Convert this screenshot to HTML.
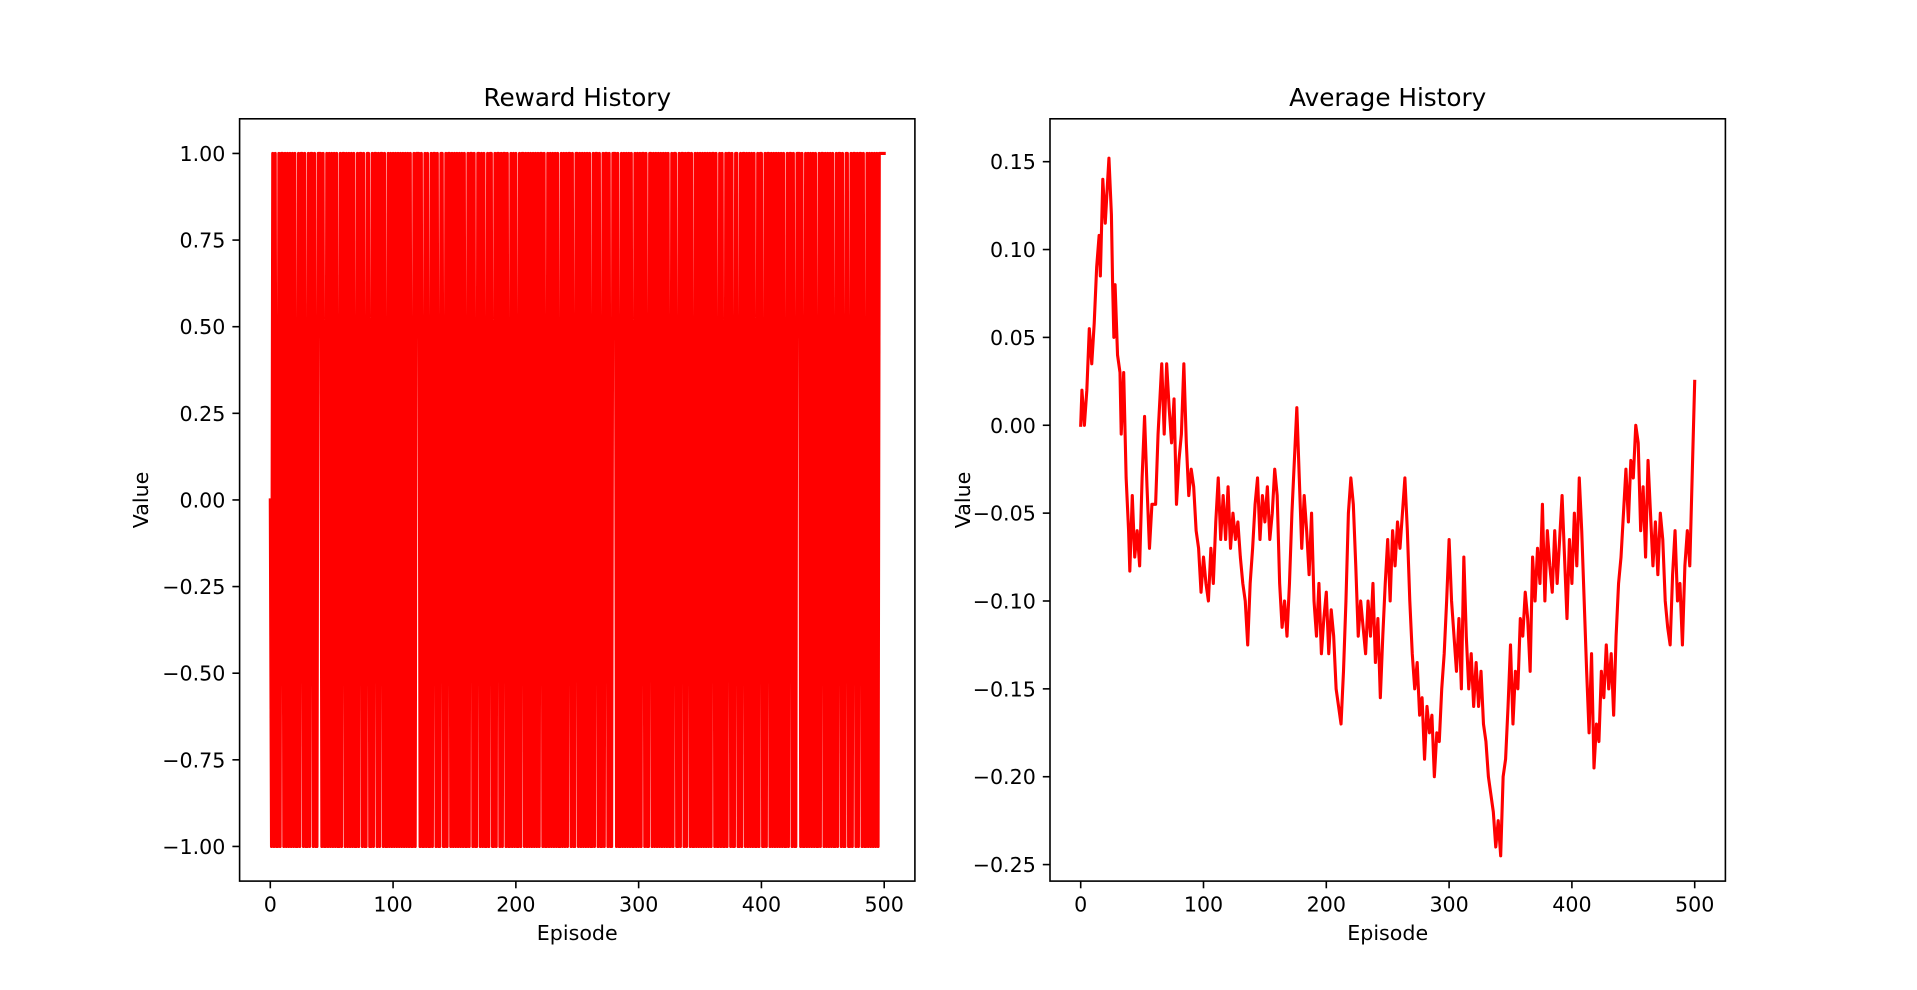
<!DOCTYPE html>
<html><head><meta charset="utf-8"><style>
html,body{margin:0;padding:0;background:#fff;}
svg{display:block;font-family:"DejaVu Sans","Liberation Sans",sans-serif;}
</style></head>
<body>
<svg id="fig" width="1917" height="990" viewBox="0 0 1917 990" xmlns="http://www.w3.org/2000/svg">
<rect x="0" y="0" width="1917" height="990" fill="#fff"/>
</svg>
<script>
// ---- data ----
const rewardGroups = [
"zbababbaba","ababababab","abbabaabab","babaababba","aababbabab",
"abababbaba","ababababab","babaababba","abbabaabab","aababbabab",
"ababababab","abababbaba","aababbabab","babaababba","abbabaabab",
"ababababab","babaababba","abababbaba","abbabaabab","aababbabab",
"abbabaabab","ababababab","aababbabab","abababbaba","babaababba",
"ababababab","abbabaabab","babaababba","aababbabab","abababbaba",
"babaababba","ababababab","abababbaba","abbabaabab","aababbabab",
"ababababab","aababbabab","babaababba","abbabaabab","abababbaba",
"abbabaabab","ababababab","babaababba","aababbabab","abababbaba",
"ababababab","babaababba","abbabaabab","aababbabab","abababaaaaa"];
const avgEpisodes = [0,1,3,5,7,9,11,13,15,16,18,20,22,23,25,26,27,28,30,32,33,35,37,39,40,42,44,46,48,50,52,54,56,58,61,63,66,68,70,72,74,76,78,80,82,84,86,88,90,92,94,96,98,100,102,104,106,108,110,112,114,116,118,120,122,124,126,128,130,132,134,136,138,140,142,144,146,148,150,152,154,156,158,160,162,164,166,168,170,172,174,176,178,180,182,184,186,188,190,192,194,196,198,200,202,204,206,208,210,212,214,216,218,220,222,224,226,228,230,232,234,236,238,240,242,244,246,248,250,252,254,256,258,260,262,264,266,268,270,272,274,276,278,280,282,284,286,288,290,292,294,296,298,300,302,304,306,308,310,312,314,316,318,320,322,324,326,328,330,332,334,336,338,340,342,344,346,348,350,352,354,356,358,360,362,364,366,368,370,372,374,376,378,380,382,384,386,388,390,392,394,396,398,400,402,404,406,408,410,412,414,416,418,420,422,424,426,428,430,432,434,436,438,440,442,444,446,448,450,452,454,456,458,460,462,464,466,468,470,472,474,476,478,480,482,484,486,488,490,492,494,496,500];
const avgValues = [0.0,0.02,0.0,0.02,0.055,0.035,0.058,0.09,0.108,0.085,0.14,0.115,0.14,0.152,0.12,0.08,0.05,0.08,0.04,0.03,-0.005,0.03,-0.03,-0.06,-0.083,-0.04,-0.075,-0.06,-0.08,-0.03,0.005,-0.035,-0.07,-0.045,-0.045,-0.005,0.035,-0.005,0.035,0.01,-0.01,0.015,-0.045,-0.02,-0.005,0.035,-0.01,-0.04,-0.025,-0.035,-0.06,-0.07,-0.095,-0.075,-0.09,-0.1,-0.07,-0.09,-0.055,-0.03,-0.065,-0.04,-0.065,-0.035,-0.07,-0.05,-0.065,-0.055,-0.075,-0.09,-0.1,-0.125,-0.09,-0.07,-0.045,-0.03,-0.065,-0.04,-0.055,-0.035,-0.065,-0.05,-0.025,-0.04,-0.09,-0.115,-0.1,-0.12,-0.09,-0.05,-0.02,0.01,-0.03,-0.07,-0.04,-0.06,-0.085,-0.05,-0.1,-0.12,-0.09,-0.13,-0.11,-0.095,-0.13,-0.105,-0.12,-0.15,-0.16,-0.17,-0.14,-0.1,-0.05,-0.03,-0.045,-0.08,-0.12,-0.1,-0.115,-0.13,-0.1,-0.12,-0.09,-0.135,-0.11,-0.155,-0.12,-0.09,-0.065,-0.1,-0.06,-0.08,-0.055,-0.07,-0.05,-0.03,-0.06,-0.1,-0.13,-0.15,-0.135,-0.165,-0.155,-0.19,-0.16,-0.175,-0.165,-0.2,-0.175,-0.18,-0.15,-0.13,-0.1,-0.065,-0.1,-0.12,-0.14,-0.11,-0.15,-0.075,-0.12,-0.15,-0.13,-0.16,-0.135,-0.16,-0.14,-0.17,-0.18,-0.2,-0.21,-0.22,-0.24,-0.225,-0.245,-0.2,-0.19,-0.16,-0.125,-0.17,-0.14,-0.15,-0.11,-0.12,-0.095,-0.11,-0.14,-0.075,-0.1,-0.07,-0.09,-0.045,-0.1,-0.06,-0.08,-0.095,-0.06,-0.09,-0.065,-0.04,-0.075,-0.11,-0.065,-0.09,-0.05,-0.08,-0.03,-0.06,-0.1,-0.14,-0.175,-0.13,-0.195,-0.17,-0.18,-0.14,-0.155,-0.125,-0.15,-0.13,-0.165,-0.12,-0.09,-0.075,-0.05,-0.025,-0.055,-0.02,-0.03,0.0,-0.01,-0.06,-0.035,-0.075,-0.02,-0.05,-0.08,-0.055,-0.085,-0.05,-0.065,-0.1,-0.115,-0.125,-0.085,-0.06,-0.1,-0.09,-0.125,-0.08,-0.06,-0.08,0.025];
const xTicks = [0,100,200,300,400,500];
const leftYTicks = [-1.0,-0.75,-0.5,-0.25,0.0,0.25,0.5,0.75,1.0];
const rightYTicks = [-0.25,-0.2,-0.15,-0.1,-0.05,0.0,0.05,0.1,0.15];

const NS="http://www.w3.org/2000/svg";
const svg=document.getElementById('fig');
function mk(tag,attrs,parent){const e=document.createElementNS(NS,tag);for(const k in attrs)e.setAttribute(k,attrs[k]);(parent||svg).appendChild(e);return e;}
function fmt(v,d){const s=Math.abs(v).toFixed(d);return (v<-1e-9?"\u2212":"")+s;}

const FS=20.6, TFS=24.7, LW=3.1, TL=7.2, SW=1.6;

function drawAxes(cfg){
  const {x0,x1,y0,y1,xmin,xmax,ymin,ymax,title,yTicks,dec,name,xs,ys}=cfg;
  const X=v=>x0+(v-xmin)/(xmax-xmin)*(x1-x0);
  const Y=v=>y1-(v-ymin)/(ymax-ymin)*(y1-y0);
  const g=mk('g',{});
  
  
  let d='';
  for(let i=0;i<xs.length;i++){d+=(i?'L':'M')+X(xs[i]).toFixed(2)+' '+Y(ys[i]).toFixed(2);}
  const p=mk('path',{d:d,fill:'none',stroke:'#ff0000','stroke-width':LW,'stroke-linejoin':'round','stroke-linecap':'square'},g);
  
  
  const fr=mk('rect',{x:x0,y:y0,width:x1-x0,height:y1-y0,fill:'none',stroke:'#000','stroke-width':SW},g);
  
  
  xTicks.forEach(t=>{
    const x=X(t);
    mk('line',{x1:x,x2:x,y1:y1,y2:y1+TL,stroke:'#000','stroke-width':SW},g);
    const tx=mk('text',{x:x,y:911.5,'font-size':FS,'text-anchor':'middle',fill:'#000'},g);
    tx.textContent=String(t);
    
    
  });
  yTicks.forEach(t=>{
    const y=Y(t);
    mk('line',{x1:x0-TL,x2:x0,y1:y,y2:y,stroke:'#000','stroke-width':SW},g);
    const tx=mk('text',{x:x0-TL-7,y:y+7.5,'font-size':FS,'text-anchor':'end',fill:'#000'},g);
    tx.textContent=fmt(t,dec);
    
    
  });
  const tt=mk('text',{x:(x0+x1)/2,y:106,'font-size':TFS,'text-anchor':'middle',fill:'#000'},g);
  tt.textContent=title;
  
  
  const xl=mk('text',{x:(x0+x1)/2,y:940,'font-size':FS,'text-anchor':'middle',fill:'#000'},g);
  xl.textContent='Episode';
  
  
  const lx=cfg.ylabX, ly=(y0+y1)/2;
  const yl=mk('text',{x:lx,y:ly,'font-size':FS,'text-anchor':'middle',fill:'#000',transform:'rotate(-90 '+lx+' '+ly+')'},g);
  yl.textContent='Value';
  
  
}

const rewards=rewardGroups.join('').split('').map(c=>c==='a'?1:(c==='b'?-1:0));
const rewardEpisodes=rewards.map((_,i)=>i);

drawAxes({x0:239.6,x1:914.9,y0:118.8,y1:881.1,xmin:-25,xmax:525,ymin:-1.1,ymax:1.1,
  title:'Reward History',yTicks:leftYTicks,dec:2,name:'reward-history-chart',xs:rewardEpisodes,ys:rewards,ylabX:148});
drawAxes({x0:1050.0,x1:1725.4,y0:118.8,y1:881.1,xmin:-25,xmax:525,ymin:-0.2594,ymax:0.1744,
  title:'Average History',yTicks:rightYTicks,dec:2,name:'average-history-chart',xs:avgEpisodes,ys:avgValues,ylabX:970});
</script>
</body></html>
